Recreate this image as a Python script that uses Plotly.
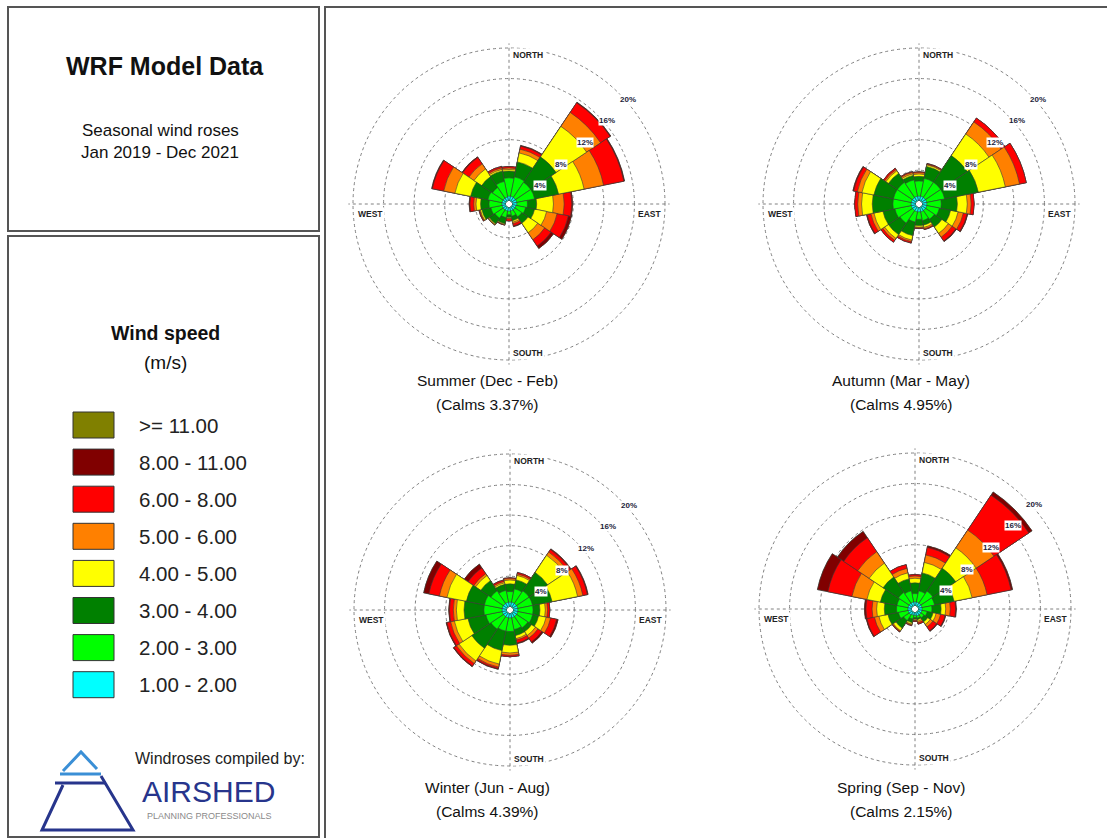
import math
import plotly.graph_objects as go

W, H = 1107, 838
FONT = "Liberation Sans, Arial, sans-serif"

# 16 compass sectors, 22.5 degrees each
DIRECTIONS = ["N", "NNE", "NE", "ENE", "E", "ESE", "SE", "SSE",
              "S", "SSW", "SW", "WSW", "W", "WNW", "NW", "NNW"]
SECTOR_ANGLES = [i * 22.5 for i in range(16)]

SPEED_CLASSES = ["1.00 - 2.00", "2.00 - 3.00", "3.00 - 4.00", "4.00 - 5.00",
                 "5.00 - 6.00", "6.00 - 8.00", "8.00 - 11.00", ">= 11.00"]
CLASS_COLORS = ["#00FFFF", "#00FF00", "#008000", "#FFFF00",
                "#FF8000", "#FF0000", "#800000", "#808000"]

# Cumulative frequency (%) per sector, one row per direction (N first),
# accumulated outward through the speed classes above.
SUMMER = [
    [0.6, 3.0, 3.9, 4.1, 4.3, 4.5, 4.5, 4.5],
    [0.6, 3.2, 5.2, 6.4, 6.9, 7.3, 7.4, 7.4],
    [0.6, 3.0, 7.0, 11.8, 14.0, 15.5, 15.6, 15.6],
    [0.6, 3.0, 6.2, 9.6, 12.2, 14.9, 15.0, 15.0],
    [0.6, 2.0, 3.2, 5.4, 6.8, 7.8, 7.9, 7.9],
    [0.5, 1.8, 3.0, 4.6, 6.0, 7.5, 7.9, 7.9],
    [0.5, 1.6, 2.6, 4.1, 5.2, 6.2, 6.6, 6.6],
    [0.5, 1.2, 1.8, 2.0, 2.2, 2.5, 2.6, 2.6],
    [0.5, 1.0, 1.3, 1.4, 1.5, 1.8, 1.8, 1.8],
    [0.5, 1.4, 2.2, 2.3, 2.3, 2.4, 2.4, 2.4],
    [0.5, 1.8, 2.7, 2.8, 2.9, 2.9, 2.9, 2.9],
    [0.5, 2.0, 3.2, 3.4, 3.5, 3.6, 3.6, 3.6],
    [0.5, 2.2, 3.3, 3.9, 4.2, 4.7, 4.8, 4.8],
    [0.5, 2.4, 4.7, 6.8, 8.3, 9.8, 9.9, 9.9],
    [0.5, 2.2, 3.9, 5.1, 5.9, 6.9, 7.0, 7.0],
    [0.5, 2.6, 4.0, 4.2, 4.4, 4.6, 4.6, 4.6],
]

AUTUMN = [
    [0.6, 2.6, 3.2, 3.5, 3.7, 3.8, 3.8, 3.8],
    [0.6, 3.0, 4.6, 4.8, 4.9, 5.0, 5.0, 5.0],
    [0.6, 3.0, 7.2, 10.6, 12.5, 13.1, 13.1, 13.1],
    [0.6, 3.0, 7.5, 11.1, 13.0, 13.9, 13.9, 13.9],
    [0.6, 2.5, 4.6, 5.9, 6.4, 6.8, 6.8, 6.8],
    [0.6, 2.3, 3.8, 4.8, 5.5, 6.0, 6.1, 6.1],
    [0.6, 2.0, 3.2, 4.2, 4.8, 5.4, 5.5, 5.5],
    [0.6, 1.8, 2.4, 2.7, 2.9, 3.0, 3.0, 3.0],
    [0.6, 1.6, 2.4, 2.6, 2.7, 2.8, 2.8, 2.8],
    [0.6, 2.0, 3.8, 4.4, 4.6, 4.8, 4.8, 4.8],
    [0.6, 2.6, 4.4, 5.0, 5.3, 5.6, 5.6, 5.6],
    [0.6, 2.8, 4.4, 5.6, 6.0, 6.5, 6.6, 6.6],
    [0.6, 3.0, 5.7, 7.1, 7.6, 8.0, 8.0, 8.0],
    [0.6, 3.0, 5.6, 7.2, 7.8, 8.3, 8.4, 8.4],
    [0.6, 3.0, 4.4, 4.8, 5.0, 5.2, 5.2, 5.2],
    [0.6, 2.8, 3.4, 3.6, 3.8, 3.9, 3.9, 3.9],
]

WINTER = [
    [0.6, 2.0, 3.0, 3.5, 3.7, 3.8, 3.8, 3.8],
    [0.6, 2.4, 3.6, 4.2, 4.4, 4.6, 4.6, 4.6],
    [0.6, 2.6, 5.5, 8.2, 8.7, 9.1, 9.2, 9.2],
    [0.6, 2.6, 5.2, 8.6, 9.3, 9.9, 10.0, 10.0],
    [0.6, 2.6, 3.5, 4.2, 4.5, 4.8, 4.8, 4.8],
    [0.6, 2.6, 3.4, 4.4, 5.0, 5.8, 6.0, 6.0],
    [0.6, 2.4, 3.0, 3.6, 4.0, 4.6, 4.8, 4.8],
    [0.6, 2.2, 3.0, 3.4, 3.6, 4.0, 4.1, 4.1],
    [0.6, 2.4, 4.2, 5.2, 5.5, 5.7, 5.7, 5.7],
    [0.6, 2.4, 5.0, 6.8, 7.2, 7.4, 7.5, 7.5],
    [0.6, 2.6, 5.6, 7.6, 8.0, 8.4, 8.5, 8.5],
    [0.6, 2.8, 5.2, 7.0, 7.5, 8.0, 8.1, 8.1],
    [0.6, 3.0, 5.6, 6.6, 7.0, 7.5, 7.6, 7.6],
    [0.6, 3.0, 5.4, 8.0, 9.0, 10.4, 11.1, 11.1],
    [0.6, 2.6, 4.2, 5.0, 5.3, 6.2, 6.8, 6.8],
    [0.6, 2.2, 3.0, 3.2, 3.4, 3.6, 3.6, 3.6],
]

SPRING = [
    [0.5, 1.6, 3.0, 3.6, 3.9, 4.1, 4.1, 4.1],
    [0.5, 2.0, 4.4, 5.8, 6.8, 7.8, 8.0, 8.0],
    [0.5, 2.4, 6.0, 9.2, 12.0, 17.5, 18.0, 18.0],
    [0.5, 2.2, 4.8, 7.2, 9.2, 12.4, 12.6, 12.6],
    [0.5, 1.8, 3.0, 3.6, 4.2, 4.9, 5.0, 5.0],
    [0.5, 1.2, 2.0, 2.4, 3.0, 3.6, 3.7, 3.7],
    [0.5, 1.0, 1.6, 2.0, 2.4, 3.0, 3.1, 3.1],
    [0.5, 0.8, 1.0, 1.2, 1.4, 1.6, 1.6, 1.6],
    [0.4, 0.7, 0.9, 1.0, 1.1, 1.2, 1.2, 1.2],
    [0.4, 0.9, 1.4, 1.6, 1.7, 1.8, 1.8, 1.8],
    [0.5, 1.4, 2.6, 3.0, 3.1, 3.2, 3.2, 3.2],
    [0.5, 1.8, 3.2, 4.4, 5.0, 6.0, 6.1, 6.1],
    [0.5, 2.0, 3.6, 4.6, 5.2, 6.0, 6.2, 6.2],
    [0.5, 2.0, 4.2, 6.0, 8.0, 11.2, 12.6, 12.6],
    [0.5, 2.2, 4.6, 6.8, 8.6, 10.8, 11.8, 11.8],
    [0.5, 2.0, 3.6, 4.4, 5.0, 5.5, 5.5, 5.5],
]

SEASON_TITLES = ["Summer (Dec - Feb)", "Autumn (Mar - May)",
                 "Winter (Jun - Aug)", "Spring (Sep - Nov)"]
CALMS = [3.37, 4.95, 4.39, 2.15]
RINGS = [4, 8, 12, 16, 20]

# ---- page geometry (pixels) ----
R = 156            # radius of the 20 % ring
RMAX = 20.6        # radial range, a little past the outer ring so it is drawn
HOLE = 0.02
RP = R / (HOLE + (1 - HOLE) * 20 / RMAX)   # radius of the whole polar area
ROSE_CENTERS = [(509, 204), (919, 204), (510, 610), (915, 609)]
CAPTION_X = [487, 901, 487, 901]
CAPTION_Y = [380, 380, 787, 787]


def fx(x):
    return x / W


def fy(y):
    return 1 - y / H


def ring_px(v):
    return RP * (HOLE + (1 - HOLE) * v / RMAX)


def note(x, y, text, size, color="#111111", xa="center", ya="middle", family=FONT, **kw):
    return dict(x=fx(x), y=fy(y), xref="paper", yref="paper", xanchor=xa, yanchor=ya,
                text=text, showarrow=False, font=dict(family=family, size=size, color=color), **kw)


fig = go.Figure()
annotations = []
shapes = []

tables = [SUMMER, AUTUMN, WINTER, SPRING]
for s, table in enumerate(tables):
    subplot = "polar" if s == 0 else f"polar{s + 1}"
    # largest cumulative class first so the inner classes sit on top
    for k in reversed(range(len(SPEED_CLASSES))):
        fig.add_trace(go.Barpolar(
            r=[row[k] for row in table],
            theta=SECTOR_ANGLES,
            width=[22.5] * 16,
            marker=dict(color=CLASS_COLORS[k], line=dict(color="#3a3a3a", width=0.6)),
            name=SPEED_CLASSES[k],
            showlegend=False,
            subplot=subplot,
            hovertemplate="%{theta}°: %{r}%<extra>" + SPEED_CLASSES[k] + "</extra>",
        ))

    cx, cy = ROSE_CENTERS[s]
    fig.layout[subplot] = dict(
        domain=dict(x=[fx(cx - RP), fx(cx + RP)], y=[fy(cy + RP), fy(cy - RP)]),
        bgcolor="rgba(0,0,0,0)",
        hole=HOLE,
        barmode="overlay",
        radialaxis=dict(range=[0, RMAX], tickvals=RINGS, showticklabels=False, ticks="",
                        showline=False, gridcolor="#808080", griddash="dot", gridwidth=1,
                        layer="below traces"),
        angularaxis=dict(rotation=90, direction="clockwise", tickvals=[0, 90, 180, 270],
                         showticklabels=False, ticks="", showline=False,
                         gridcolor="#808080", griddash="dot", gridwidth=1,
                         layer="below traces"),
    )

    # ring labels along the north-east diagonal
    for v in RINGS:
        rp = ring_px(v)
        ax = cx + rp * math.sin(math.radians(45))
        ay = cy - rp * math.cos(math.radians(45))
        annotations.append(note(ax, ay, f"<b>{v}%</b>", 8, "#1c1c3a", "left", "top",
                                bgcolor="white", borderpad=0))

    # compass labels
    for txt, x, y, xa, ya in [("NORTH", cx + 2, cy - R, "left", "top"),
                              ("SOUTH", cx + 2, cy + R, "left", "bottom"),
                              ("WEST", cx - R + 3, cy + 3, "left", "top"),
                              ("EAST", cx + R - 2, cy + 3, "right", "top")]:
        annotations.append(note(x, y, f"<b>{txt}</b>", 8.5, "#222222", xa, ya,
                                bgcolor="white", borderpad=1))

    annotations.append(note(CAPTION_X[s], CAPTION_Y[s], SEASON_TITLES[s], 15.5))
    annotations.append(note(CAPTION_X[s], CAPTION_Y[s] + 24, f"(Calms {CALMS[s]:.2f}%)", 15.5))


def rect(x0, y0, x1, y1, line_color="#555555", width=2, fill="rgba(0,0,0,0)"):
    return dict(type="rect", xref="paper", yref="paper",
                x0=fx(x0), x1=fx(x1), y0=fy(y1), y1=fy(y0),
                line=dict(color=line_color, width=width), fillcolor=fill, layer="below")


# panel frames
shapes.append(rect(8, 7, 319, 231))
shapes.append(rect(8, 236, 319, 837))
shapes.append(rect(325, 7, 1112, 845))

# info panel
annotations += [
    note(165, 66, "<b>WRF Model Data</b>", 25),
    note(160, 130, "Seasonal wind roses", 17),
    note(160, 153, "Jan 2019 - Dec 2021", 17),
    note(165, 333, "<b>Wind speed</b>", 19.5),
    note(165, 362, "(m/s)", 19),
]

# speed legend, strongest class at the top
for i, k in enumerate(reversed(range(len(SPEED_CLASSES)))):
    yc = 425 + i * 37.1
    shapes.append(dict(type="rect", xref="paper", yref="paper",
                       x0=fx(73), x1=fx(114), y0=fy(yc + 13), y1=fy(yc - 13),
                       line=dict(color="#333333", width=1), fillcolor=CLASS_COLORS[k]))
    annotations.append(note(137, yc, SPEED_CLASSES[k], 20.5, "#222222", "left", "middle"))

# compiler logo
LIGHT_BLUE, NAVY = "#3a8fd6", "#27358c"


def path(points, color, width=3):
    d = "M " + " L ".join(f"{fx(x)},{fy(y)}" for x, y in points)
    return dict(type="path", xref="paper", yref="paper", path=d,
                line=dict(color=color, width=width))


shapes += [
    path([(63, 771), (81, 752), (97, 769)], LIGHT_BLUE),
    path([(60, 774), (101, 774)], LIGHT_BLUE),
    path([(55, 783), (106, 783)], NAVY),
    path([(101, 776), (133, 830), (42, 830), (63, 785)], NAVY),
]
annotations += [
    note(133, 758, "Windroses compiled by:", 16, "#222222", "left", "middle"),
    note(140, 791, "AIRSHED", 30, NAVY, "left", "middle"),
    note(145, 816, "PLANNING PROFESSIONALS", 9, "#8a8a8a", "left", "middle"),
]

fig.update_layout(
    width=W, height=H,
    margin=dict(l=0, r=0, t=0, b=0),
    paper_bgcolor="white",
    plot_bgcolor="white",
    showlegend=False,
    annotations=annotations,
    shapes=shapes,
)

fig.write_html("out.html")
